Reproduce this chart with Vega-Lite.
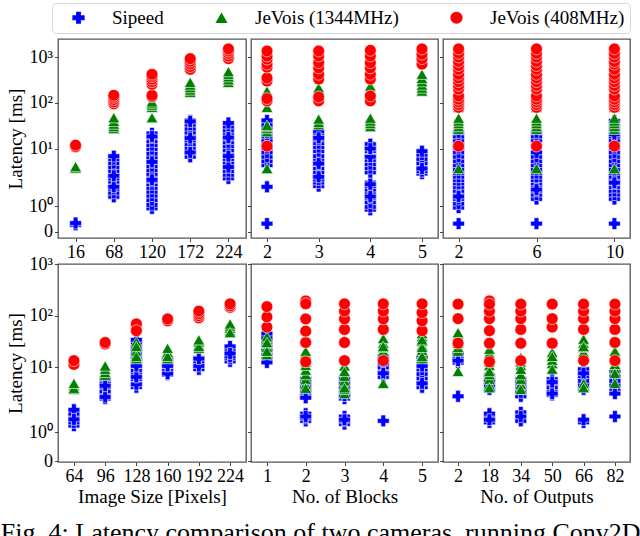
{
"$schema": "https://vega.github.io/schema/vega-lite/v6.json",
"padding": {"left": 0, "top": 2, "right": 0, "bottom": 0},
"config": {
  "font": "Liberation Serif",
  "view": {"stroke": "#555555", "strokeWidth": 1.3},
  "axis": {"labelFont": "Liberation Serif", "labelFontSize": 18, "titleFont": "Liberation Serif", "titleFontSize": 19, "titleFontWeight": "normal", "labelColor": "black", "titleColor": "black", "tickColor": "#444444", "tickSize": 3.5, "domain": false, "grid": false, "labelPadding": 2},
  "legend": {"labelFont": "Liberation Serif", "labelFontSize": 19, "labelColor": "black", "symbolSize": 150, "columnPadding": 36, "labelOffset": 24, "padding": 5, "strokeColor": "#d6d6d6", "cornerRadius": 4, "fillColor": "white", "symbolOffset": 12, "symbolStrokeWidth": 0, "direction": "horizontal"}
},
"title": {"text": "Fig. 4: Latency comparison of two cameras, running Conv2D", "orient": "bottom", "anchor": "start", "frame": "bounds", "font": "Liberation Serif", "fontSize": 26, "fontWeight": "normal", "color": "black", "offset": 13, "dx": -5},
"datasets": {
"a1": [
{"x":16,"s":"Sipeed","v":0.2},{"x":16,"s":"Sipeed","v":0.26},
{"x":68,"s":"Sipeed","v":1.32},{"x":68,"s":"Sipeed","v":1.47},{"x":68,"s":"Sipeed","v":1.63},{"x":68,"s":"Sipeed","v":1.79},{"x":68,"s":"Sipeed","v":1.95},{"x":68,"s":"Sipeed","v":2.28},{"x":68,"s":"Sipeed","v":2.79},{"x":68,"s":"Sipeed","v":3.41},{"x":68,"s":"Sipeed","v":4.2},{"x":68,"s":"Sipeed","v":5.1},{"x":68,"s":"Sipeed","v":6.2},{"x":68,"s":"Sipeed","v":1.72},{"x":68,"s":"Sipeed","v":2.65},{"x":68,"s":"Sipeed","v":7.1},
{"x":120,"s":"Sipeed","v":0.88},{"x":120,"s":"Sipeed","v":1.04},{"x":120,"s":"Sipeed","v":1.2},{"x":120,"s":"Sipeed","v":1.36},{"x":120,"s":"Sipeed","v":1.51},{"x":120,"s":"Sipeed","v":1.67},{"x":120,"s":"Sipeed","v":1.83},{"x":120,"s":"Sipeed","v":1.98},{"x":120,"s":"Sipeed","v":2.4},{"x":120,"s":"Sipeed","v":2.93},{"x":120,"s":"Sipeed","v":3.6},{"x":120,"s":"Sipeed","v":4.38},{"x":120,"s":"Sipeed","v":5.4},{"x":120,"s":"Sipeed","v":6.55},{"x":120,"s":"Sipeed","v":8},{"x":120,"s":"Sipeed","v":9.8},{"x":120,"s":"Sipeed","v":12},{"x":120,"s":"Sipeed","v":14.7},{"x":120,"s":"Sipeed","v":17.9},{"x":120,"s":"Sipeed","v":21.9},{"x":120,"s":"Sipeed","v":2.1},{"x":120,"s":"Sipeed","v":5.4},{"x":120,"s":"Sipeed","v":18.8},
{"x":172,"s":"Sipeed","v":6.9},{"x":172,"s":"Sipeed","v":8.4},{"x":172,"s":"Sipeed","v":10.3},{"x":172,"s":"Sipeed","v":12.6},{"x":172,"s":"Sipeed","v":15.4},{"x":172,"s":"Sipeed","v":18.8},{"x":172,"s":"Sipeed","v":23},{"x":172,"s":"Sipeed","v":28},{"x":172,"s":"Sipeed","v":34},{"x":172,"s":"Sipeed","v":42},{"x":172,"s":"Sipeed","v":8.4},{"x":172,"s":"Sipeed","v":17.3},{"x":172,"s":"Sipeed","v":40},
{"x":224,"s":"Sipeed","v":2.28},{"x":224,"s":"Sipeed","v":2.79},{"x":224,"s":"Sipeed","v":3.41},{"x":224,"s":"Sipeed","v":4.2},{"x":224,"s":"Sipeed","v":5.1},{"x":224,"s":"Sipeed","v":6.2},{"x":224,"s":"Sipeed","v":7.6},{"x":224,"s":"Sipeed","v":9.3},{"x":224,"s":"Sipeed","v":11.4},{"x":224,"s":"Sipeed","v":13.9},{"x":224,"s":"Sipeed","v":17},{"x":224,"s":"Sipeed","v":20.8},{"x":224,"s":"Sipeed","v":25.5},{"x":224,"s":"Sipeed","v":31},{"x":224,"s":"Sipeed","v":4.2},{"x":224,"s":"Sipeed","v":7.1},{"x":224,"s":"Sipeed","v":17.8},{"x":224,"s":"Sipeed","v":37},
{"x":16,"s":"JeVois (1344MHz)","v":4.0},{"x":16,"s":"JeVois (1344MHz)","v":4.3},
{"x":68,"s":"JeVois (1344MHz)","v":28},{"x":68,"s":"JeVois (1344MHz)","v":31},{"x":68,"s":"JeVois (1344MHz)","v":35},{"x":68,"s":"JeVois (1344MHz)","v":40},{"x":68,"s":"JeVois (1344MHz)","v":48},
{"x":120,"s":"JeVois (1344MHz)","v":48},{"x":120,"s":"JeVois (1344MHz)","v":80},{"x":120,"s":"JeVois (1344MHz)","v":88},{"x":120,"s":"JeVois (1344MHz)","v":96},{"x":120,"s":"JeVois (1344MHz)","v":105},
{"x":172,"s":"JeVois (1344MHz)","v":170},{"x":172,"s":"JeVois (1344MHz)","v":190},{"x":172,"s":"JeVois (1344MHz)","v":215},{"x":172,"s":"JeVois (1344MHz)","v":245},{"x":172,"s":"JeVois (1344MHz)","v":280},
{"x":224,"s":"JeVois (1344MHz)","v":280},{"x":224,"s":"JeVois (1344MHz)","v":320},{"x":224,"s":"JeVois (1344MHz)","v":370},{"x":224,"s":"JeVois (1344MHz)","v":420},{"x":224,"s":"JeVois (1344MHz)","v":480},
{"x":16,"s":"JeVois (408MHz)","v":11},{"x":16,"s":"JeVois (408MHz)","v":12},
{"x":68,"s":"JeVois (408MHz)","v":95},{"x":68,"s":"JeVois (408MHz)","v":105},{"x":68,"s":"JeVois (408MHz)","v":118},{"x":68,"s":"JeVois (408MHz)","v":132},{"x":68,"s":"JeVois (408MHz)","v":146},
{"x":120,"s":"JeVois (408MHz)","v":135},{"x":120,"s":"JeVois (408MHz)","v":146},{"x":120,"s":"JeVois (408MHz)","v":255},{"x":120,"s":"JeVois (408MHz)","v":290},{"x":120,"s":"JeVois (408MHz)","v":330},{"x":120,"s":"JeVois (408MHz)","v":375},{"x":120,"s":"JeVois (408MHz)","v":420},
{"x":172,"s":"JeVois (408MHz)","v":540},{"x":172,"s":"JeVois (408MHz)","v":620},{"x":172,"s":"JeVois (408MHz)","v":710},{"x":172,"s":"JeVois (408MHz)","v":810},{"x":172,"s":"JeVois (408MHz)","v":920},
{"x":224,"s":"JeVois (408MHz)","v":920},{"x":224,"s":"JeVois (408MHz)","v":1050},{"x":224,"s":"JeVois (408MHz)","v":1200},{"x":224,"s":"JeVois (408MHz)","v":1350},{"x":224,"s":"JeVois (408MHz)","v":1500}
],
"a2": [
{"x":2,"s":"Sipeed","v":4.6},{"x":2,"s":"Sipeed","v":5.6},{"x":2,"s":"Sipeed","v":6.9},{"x":2,"s":"Sipeed","v":8.4},{"x":2,"s":"Sipeed","v":10.3},{"x":2,"s":"Sipeed","v":12.6},{"x":2,"s":"Sipeed","v":15.4},{"x":2,"s":"Sipeed","v":18.8},{"x":2,"s":"Sipeed","v":23},{"x":2,"s":"Sipeed","v":28},{"x":2,"s":"Sipeed","v":34},{"x":2,"s":"Sipeed","v":42},{"x":2,"s":"Sipeed","v":0.24},{"x":2,"s":"Sipeed","v":1.72},
{"x":3,"s":"Sipeed","v":1.75},{"x":3,"s":"Sipeed","v":1.91},{"x":3,"s":"Sipeed","v":2.14},{"x":3,"s":"Sipeed","v":2.65},{"x":3,"s":"Sipeed","v":3.2},{"x":3,"s":"Sipeed","v":3.97},{"x":3,"s":"Sipeed","v":4.85},{"x":3,"s":"Sipeed","v":5.93},{"x":3,"s":"Sipeed","v":7.1},{"x":3,"s":"Sipeed","v":8.9},{"x":3,"s":"Sipeed","v":10.8},{"x":3,"s":"Sipeed","v":13.3},{"x":3,"s":"Sipeed","v":16.2},{"x":3,"s":"Sipeed","v":19.8},{"x":3,"s":"Sipeed","v":24.2},{"x":3,"s":"Sipeed","v":2.5},{"x":3,"s":"Sipeed","v":5.0},{"x":3,"s":"Sipeed","v":17.5},
{"x":4,"s":"Sipeed","v":0.81},{"x":4,"s":"Sipeed","v":0.96},{"x":4,"s":"Sipeed","v":1.12},{"x":4,"s":"Sipeed","v":1.28},{"x":4,"s":"Sipeed","v":1.44},{"x":4,"s":"Sipeed","v":1.6},{"x":4,"s":"Sipeed","v":1.75},{"x":4,"s":"Sipeed","v":1.91},{"x":4,"s":"Sipeed","v":3.2},{"x":4,"s":"Sipeed","v":3.97},{"x":4,"s":"Sipeed","v":4.85},{"x":4,"s":"Sipeed","v":5.93},{"x":4,"s":"Sipeed","v":7.1},{"x":4,"s":"Sipeed","v":8.9},{"x":4,"s":"Sipeed","v":10.8},{"x":4,"s":"Sipeed","v":12.6},{"x":4,"s":"Sipeed","v":1.33},{"x":4,"s":"Sipeed","v":1.83},{"x":4,"s":"Sipeed","v":6.9},{"x":4,"s":"Sipeed","v":10},
{"x":5,"s":"Sipeed","v":3.0},{"x":5,"s":"Sipeed","v":3.4},{"x":5,"s":"Sipeed","v":4.2},{"x":5,"s":"Sipeed","v":5.1},{"x":5,"s":"Sipeed","v":6.2},{"x":5,"s":"Sipeed","v":7.6},{"x":5,"s":"Sipeed","v":3.9},{"x":5,"s":"Sipeed","v":8.9},
{"x":2,"s":"JeVois (1344MHz)","v":3.9},{"x":2,"s":"JeVois (1344MHz)","v":24},{"x":2,"s":"JeVois (1344MHz)","v":28},{"x":2,"s":"JeVois (1344MHz)","v":31},{"x":2,"s":"JeVois (1344MHz)","v":33},{"x":2,"s":"JeVois (1344MHz)","v":80},{"x":2,"s":"JeVois (1344MHz)","v":181},
{"x":3,"s":"JeVois (1344MHz)","v":34},{"x":3,"s":"JeVois (1344MHz)","v":38},{"x":3,"s":"JeVois (1344MHz)","v":45},{"x":3,"s":"JeVois (1344MHz)","v":200},{"x":3,"s":"JeVois (1344MHz)","v":214},
{"x":4,"s":"JeVois (1344MHz)","v":31},{"x":4,"s":"JeVois (1344MHz)","v":36},{"x":4,"s":"JeVois (1344MHz)","v":41},{"x":4,"s":"JeVois (1344MHz)","v":47},{"x":4,"s":"JeVois (1344MHz)","v":233},
{"x":5,"s":"JeVois (1344MHz)","v":181},{"x":5,"s":"JeVois (1344MHz)","v":210},{"x":5,"s":"JeVois (1344MHz)","v":245},{"x":5,"s":"JeVois (1344MHz)","v":290},{"x":5,"s":"JeVois (1344MHz)","v":340},{"x":5,"s":"JeVois (1344MHz)","v":420},
{"x":2,"s":"JeVois (408MHz)","v":11.4},{"x":2,"s":"JeVois (408MHz)","v":110},{"x":2,"s":"JeVois (408MHz)","v":124},{"x":2,"s":"JeVois (408MHz)","v":300},{"x":2,"s":"JeVois (408MHz)","v":350},{"x":2,"s":"JeVois (408MHz)","v":600},{"x":2,"s":"JeVois (408MHz)","v":700},{"x":2,"s":"JeVois (408MHz)","v":900},{"x":2,"s":"JeVois (408MHz)","v":1050},{"x":2,"s":"JeVois (408MHz)","v":1350},
{"x":3,"s":"JeVois (408MHz)","v":110},{"x":3,"s":"JeVois (408MHz)","v":134},{"x":3,"s":"JeVois (408MHz)","v":330},{"x":3,"s":"JeVois (408MHz)","v":420},{"x":3,"s":"JeVois (408MHz)","v":580},{"x":3,"s":"JeVois (408MHz)","v":750},{"x":3,"s":"JeVois (408MHz)","v":1050},{"x":3,"s":"JeVois (408MHz)","v":1350},
{"x":4,"s":"JeVois (408MHz)","v":110},{"x":4,"s":"JeVois (408MHz)","v":141},{"x":4,"s":"JeVois (408MHz)","v":330},{"x":4,"s":"JeVois (408MHz)","v":420},{"x":4,"s":"JeVois (408MHz)","v":580},{"x":4,"s":"JeVois (408MHz)","v":750},{"x":4,"s":"JeVois (408MHz)","v":1050},{"x":4,"s":"JeVois (408MHz)","v":1400},
{"x":5,"s":"JeVois (408MHz)","v":700},{"x":5,"s":"JeVois (408MHz)","v":920},{"x":5,"s":"JeVois (408MHz)","v":1150},{"x":5,"s":"JeVois (408MHz)","v":1500}
],
"a3": [
{"x":2,"s":"Sipeed","v":0.92},{"x":2,"s":"Sipeed","v":1.08},{"x":2,"s":"Sipeed","v":1.24},{"x":2,"s":"Sipeed","v":1.4},{"x":2,"s":"Sipeed","v":1.55},{"x":2,"s":"Sipeed","v":1.71},{"x":2,"s":"Sipeed","v":1.87},{"x":2,"s":"Sipeed","v":2.06},{"x":2,"s":"Sipeed","v":2.5},{"x":2,"s":"Sipeed","v":3.08},{"x":2,"s":"Sipeed","v":3.75},{"x":2,"s":"Sipeed","v":4.6},{"x":2,"s":"Sipeed","v":5.6},{"x":2,"s":"Sipeed","v":6.9},{"x":2,"s":"Sipeed","v":8.4},{"x":2,"s":"Sipeed","v":10.3},{"x":2,"s":"Sipeed","v":12.6},{"x":2,"s":"Sipeed","v":15.4},{"x":2,"s":"Sipeed","v":18.8},{"x":2,"s":"Sipeed","v":23},{"x":2,"s":"Sipeed","v":0.24},{"x":2,"s":"Sipeed","v":1.33},
{"x":6,"s":"Sipeed","v":1.24},{"x":6,"s":"Sipeed","v":1.4},{"x":6,"s":"Sipeed","v":1.55},{"x":6,"s":"Sipeed","v":1.71},{"x":6,"s":"Sipeed","v":1.87},{"x":6,"s":"Sipeed","v":2.06},{"x":6,"s":"Sipeed","v":2.5},{"x":6,"s":"Sipeed","v":3.08},{"x":6,"s":"Sipeed","v":3.75},{"x":6,"s":"Sipeed","v":4.6},{"x":6,"s":"Sipeed","v":5.6},{"x":6,"s":"Sipeed","v":6.9},{"x":6,"s":"Sipeed","v":8.4},{"x":6,"s":"Sipeed","v":15.4},{"x":6,"s":"Sipeed","v":18.8},{"x":6,"s":"Sipeed","v":23},{"x":6,"s":"Sipeed","v":0.24},{"x":6,"s":"Sipeed","v":1.6},
{"x":10,"s":"Sipeed","v":1.24},{"x":10,"s":"Sipeed","v":1.4},{"x":10,"s":"Sipeed","v":1.55},{"x":10,"s":"Sipeed","v":1.71},{"x":10,"s":"Sipeed","v":1.87},{"x":10,"s":"Sipeed","v":2.06},{"x":10,"s":"Sipeed","v":2.5},{"x":10,"s":"Sipeed","v":3.08},{"x":10,"s":"Sipeed","v":3.75},{"x":10,"s":"Sipeed","v":4.6},{"x":10,"s":"Sipeed","v":5.6},{"x":10,"s":"Sipeed","v":6.9},{"x":10,"s":"Sipeed","v":8.4},{"x":10,"s":"Sipeed","v":10.3},{"x":10,"s":"Sipeed","v":12.6},{"x":10,"s":"Sipeed","v":15.4},{"x":10,"s":"Sipeed","v":18.8},{"x":10,"s":"Sipeed","v":23},{"x":10,"s":"Sipeed","v":28},{"x":10,"s":"Sipeed","v":34},{"x":10,"s":"Sipeed","v":41},{"x":10,"s":"Sipeed","v":0.24},{"x":10,"s":"Sipeed","v":1.9},{"x":10,"s":"Sipeed","v":21},
{"x":2,"s":"JeVois (1344MHz)","v":3.9},{"x":2,"s":"JeVois (1344MHz)","v":27},{"x":2,"s":"JeVois (1344MHz)","v":31},{"x":2,"s":"JeVois (1344MHz)","v":36},{"x":2,"s":"JeVois (1344MHz)","v":41},{"x":2,"s":"JeVois (1344MHz)","v":47},{"x":2,"s":"JeVois (1344MHz)","v":80},
{"x":6,"s":"JeVois (1344MHz)","v":3.9},{"x":6,"s":"JeVois (1344MHz)","v":27},{"x":6,"s":"JeVois (1344MHz)","v":31},{"x":6,"s":"JeVois (1344MHz)","v":36},{"x":6,"s":"JeVois (1344MHz)","v":41},{"x":6,"s":"JeVois (1344MHz)","v":47},{"x":6,"s":"JeVois (1344MHz)","v":80},
{"x":10,"s":"JeVois (1344MHz)","v":3.9},{"x":10,"s":"JeVois (1344MHz)","v":27},{"x":10,"s":"JeVois (1344MHz)","v":31},{"x":10,"s":"JeVois (1344MHz)","v":36},{"x":10,"s":"JeVois (1344MHz)","v":41},{"x":10,"s":"JeVois (1344MHz)","v":47},{"x":10,"s":"JeVois (1344MHz)","v":80},
{"x":2,"s":"JeVois (408MHz)","v":11.4},{"x":2,"s":"JeVois (408MHz)","v":80},{"x":2,"s":"JeVois (408MHz)","v":92},{"x":2,"s":"JeVois (408MHz)","v":105},{"x":2,"s":"JeVois (408MHz)","v":120},{"x":2,"s":"JeVois (408MHz)","v":141},{"x":2,"s":"JeVois (408MHz)","v":200},{"x":2,"s":"JeVois (408MHz)","v":240},{"x":2,"s":"JeVois (408MHz)","v":290},{"x":2,"s":"JeVois (408MHz)","v":350},{"x":2,"s":"JeVois (408MHz)","v":420},{"x":2,"s":"JeVois (408MHz)","v":540},{"x":2,"s":"JeVois (408MHz)","v":650},{"x":2,"s":"JeVois (408MHz)","v":800},{"x":2,"s":"JeVois (408MHz)","v":1000},{"x":2,"s":"JeVois (408MHz)","v":1200},{"x":2,"s":"JeVois (408MHz)","v":1500},
{"x":6,"s":"JeVois (408MHz)","v":11.4},{"x":6,"s":"JeVois (408MHz)","v":80},{"x":6,"s":"JeVois (408MHz)","v":92},{"x":6,"s":"JeVois (408MHz)","v":105},{"x":6,"s":"JeVois (408MHz)","v":120},{"x":6,"s":"JeVois (408MHz)","v":141},{"x":6,"s":"JeVois (408MHz)","v":200},{"x":6,"s":"JeVois (408MHz)","v":240},{"x":6,"s":"JeVois (408MHz)","v":290},{"x":6,"s":"JeVois (408MHz)","v":350},{"x":6,"s":"JeVois (408MHz)","v":420},{"x":6,"s":"JeVois (408MHz)","v":540},{"x":6,"s":"JeVois (408MHz)","v":650},{"x":6,"s":"JeVois (408MHz)","v":800},{"x":6,"s":"JeVois (408MHz)","v":1000},{"x":6,"s":"JeVois (408MHz)","v":1200},{"x":6,"s":"JeVois (408MHz)","v":1500},
{"x":10,"s":"JeVois (408MHz)","v":11.4},{"x":10,"s":"JeVois (408MHz)","v":80},{"x":10,"s":"JeVois (408MHz)","v":92},{"x":10,"s":"JeVois (408MHz)","v":105},{"x":10,"s":"JeVois (408MHz)","v":120},{"x":10,"s":"JeVois (408MHz)","v":141},{"x":10,"s":"JeVois (408MHz)","v":200},{"x":10,"s":"JeVois (408MHz)","v":240},{"x":10,"s":"JeVois (408MHz)","v":290},{"x":10,"s":"JeVois (408MHz)","v":350},{"x":10,"s":"JeVois (408MHz)","v":420},{"x":10,"s":"JeVois (408MHz)","v":540},{"x":10,"s":"JeVois (408MHz)","v":700},{"x":10,"s":"JeVois (408MHz)","v":800},{"x":10,"s":"JeVois (408MHz)","v":1000},{"x":10,"s":"JeVois (408MHz)","v":1200},{"x":10,"s":"JeVois (408MHz)","v":1500}
],
"b1": [
{"x":64,"s":"Sipeed","v":1.2},{"x":64,"s":"Sipeed","v":1.3},{"x":64,"s":"Sipeed","v":1.45},{"x":64,"s":"Sipeed","v":1.6},{"x":64,"s":"Sipeed","v":1.75},{"x":64,"s":"Sipeed","v":1.4},
{"x":96,"s":"Sipeed","v":2.6},{"x":96,"s":"Sipeed","v":3.1},{"x":96,"s":"Sipeed","v":3.7},{"x":96,"s":"Sipeed","v":4.4},{"x":96,"s":"Sipeed","v":5.2},{"x":96,"s":"Sipeed","v":6.2},{"x":96,"s":"Sipeed","v":2.8},{"x":96,"s":"Sipeed","v":4.7},
{"x":128,"s":"Sipeed","v":4.4},{"x":128,"s":"Sipeed","v":5.2},{"x":128,"s":"Sipeed","v":6.2},{"x":128,"s":"Sipeed","v":7.5},{"x":128,"s":"Sipeed","v":8.9},{"x":128,"s":"Sipeed","v":10.7},{"x":128,"s":"Sipeed","v":12.7},{"x":128,"s":"Sipeed","v":15.2},{"x":128,"s":"Sipeed","v":18.2},{"x":128,"s":"Sipeed","v":21.7},{"x":128,"s":"Sipeed","v":26},{"x":128,"s":"Sipeed","v":31},{"x":128,"s":"Sipeed","v":35},{"x":128,"s":"Sipeed","v":5.0},{"x":128,"s":"Sipeed","v":6.8},{"x":128,"s":"Sipeed","v":10.7},
{"x":160,"s":"Sipeed","v":7.5},{"x":160,"s":"Sipeed","v":8.9},{"x":160,"s":"Sipeed","v":10.7},{"x":160,"s":"Sipeed","v":12.7},{"x":160,"s":"Sipeed","v":15.2},{"x":160,"s":"Sipeed","v":7.8},{"x":160,"s":"Sipeed","v":10.7},
{"x":192,"s":"Sipeed","v":9.3},{"x":192,"s":"Sipeed","v":11},{"x":192,"s":"Sipeed","v":13},{"x":192,"s":"Sipeed","v":15.5},{"x":192,"s":"Sipeed","v":10.7},{"x":192,"s":"Sipeed","v":15},
{"x":224,"s":"Sipeed","v":13.3},{"x":224,"s":"Sipeed","v":15.2},{"x":224,"s":"Sipeed","v":18.2},{"x":224,"s":"Sipeed","v":21.7},{"x":224,"s":"Sipeed","v":26},{"x":224,"s":"Sipeed","v":16.6},{"x":224,"s":"Sipeed","v":19},
{"x":64,"s":"JeVois (1344MHz)","v":4.0},{"x":64,"s":"JeVois (1344MHz)","v":4.6},{"x":64,"s":"JeVois (1344MHz)","v":4.2},{"x":64,"s":"JeVois (1344MHz)","v":5.2},
{"x":96,"s":"JeVois (1344MHz)","v":7.3},{"x":96,"s":"JeVois (1344MHz)","v":8.2},{"x":96,"s":"JeVois (1344MHz)","v":9.3},{"x":96,"s":"JeVois (1344MHz)","v":10.7},
{"x":128,"s":"JeVois (1344MHz)","v":15},{"x":128,"s":"JeVois (1344MHz)","v":18},{"x":128,"s":"JeVois (1344MHz)","v":21},{"x":128,"s":"JeVois (1344MHz)","v":32},{"x":128,"s":"JeVois (1344MHz)","v":16.6},{"x":128,"s":"JeVois (1344MHz)","v":26},
{"x":160,"s":"JeVois (1344MHz)","v":15},{"x":160,"s":"JeVois (1344MHz)","v":17},{"x":160,"s":"JeVois (1344MHz)","v":20},{"x":160,"s":"JeVois (1344MHz)","v":16.6},{"x":160,"s":"JeVois (1344MHz)","v":24},
{"x":192,"s":"JeVois (1344MHz)","v":24},{"x":192,"s":"JeVois (1344MHz)","v":28},{"x":192,"s":"JeVois (1344MHz)","v":32},{"x":192,"s":"JeVois (1344MHz)","v":26},{"x":192,"s":"JeVois (1344MHz)","v":35},
{"x":224,"s":"JeVois (1344MHz)","v":52},{"x":224,"s":"JeVois (1344MHz)","v":58},{"x":224,"s":"JeVois (1344MHz)","v":64},{"x":224,"s":"JeVois (1344MHz)","v":70},{"x":224,"s":"JeVois (1344MHz)","v":48},
{"x":64,"s":"JeVois (408MHz)","v":11.5},{"x":64,"s":"JeVois (408MHz)","v":13.7},
{"x":96,"s":"JeVois (408MHz)","v":29},{"x":96,"s":"JeVois (408MHz)","v":31},
{"x":128,"s":"JeVois (408MHz)","v":55},{"x":128,"s":"JeVois (408MHz)","v":60},{"x":128,"s":"JeVois (408MHz)","v":65},{"x":128,"s":"JeVois (408MHz)","v":70},{"x":128,"s":"JeVois (408MHz)","v":52},
{"x":160,"s":"JeVois (408MHz)","v":80},{"x":160,"s":"JeVois (408MHz)","v":87},
{"x":192,"s":"JeVois (408MHz)","v":91},{"x":192,"s":"JeVois (408MHz)","v":100},{"x":192,"s":"JeVois (408MHz)","v":110},{"x":192,"s":"JeVois (408MHz)","v":123},
{"x":224,"s":"JeVois (408MHz)","v":145},{"x":224,"s":"JeVois (408MHz)","v":155},{"x":224,"s":"JeVois (408MHz)","v":170}
],
"b2": [
{"x":1,"s":"Sipeed","v":15},{"x":1,"s":"Sipeed","v":18},{"x":1,"s":"Sipeed","v":22},{"x":1,"s":"Sipeed","v":27},{"x":1,"s":"Sipeed","v":32},{"x":1,"s":"Sipeed","v":38},{"x":1,"s":"Sipeed","v":46},{"x":1,"s":"Sipeed","v":12.6},
{"x":2,"s":"Sipeed","v":1.35},{"x":2,"s":"Sipeed","v":1.45},{"x":2,"s":"Sipeed","v":1.6},{"x":2,"s":"Sipeed","v":3.0},{"x":2,"s":"Sipeed","v":3.6},{"x":2,"s":"Sipeed","v":4.3},{"x":2,"s":"Sipeed","v":5.2},{"x":2,"s":"Sipeed","v":6.3},{"x":2,"s":"Sipeed","v":1.5},{"x":2,"s":"Sipeed","v":2.7},
{"x":3,"s":"Sipeed","v":1.25},{"x":3,"s":"Sipeed","v":1.35},{"x":3,"s":"Sipeed","v":1.5},{"x":3,"s":"Sipeed","v":2.6},{"x":3,"s":"Sipeed","v":3.1},{"x":3,"s":"Sipeed","v":3.7},{"x":3,"s":"Sipeed","v":4.4},{"x":3,"s":"Sipeed","v":5.2},{"x":3,"s":"Sipeed","v":6.2},{"x":3,"s":"Sipeed","v":1.39},{"x":3,"s":"Sipeed","v":3.0},
{"x":4,"s":"Sipeed","v":6.8},{"x":4,"s":"Sipeed","v":8.2},{"x":4,"s":"Sipeed","v":10},{"x":4,"s":"Sipeed","v":12},{"x":4,"s":"Sipeed","v":14.5},{"x":4,"s":"Sipeed","v":16.6},{"x":4,"s":"Sipeed","v":7.9},{"x":4,"s":"Sipeed","v":1.35},
{"x":5,"s":"Sipeed","v":4.4},{"x":5,"s":"Sipeed","v":5.3},{"x":5,"s":"Sipeed","v":6.4},{"x":5,"s":"Sipeed","v":7.7},{"x":5,"s":"Sipeed","v":9.2},{"x":5,"s":"Sipeed","v":11},{"x":5,"s":"Sipeed","v":13.3},{"x":5,"s":"Sipeed","v":16},{"x":5,"s":"Sipeed","v":5.2},{"x":5,"s":"Sipeed","v":10.7},
{"x":1,"s":"JeVois (1344MHz)","v":18},{"x":1,"s":"JeVois (1344MHz)","v":21},{"x":1,"s":"JeVois (1344MHz)","v":25},{"x":1,"s":"JeVois (1344MHz)","v":30},{"x":1,"s":"JeVois (1344MHz)","v":35},{"x":1,"s":"JeVois (1344MHz)","v":40},{"x":1,"s":"JeVois (1344MHz)","v":21},{"x":1,"s":"JeVois (1344MHz)","v":31},
{"x":2,"s":"JeVois (1344MHz)","v":5},{"x":2,"s":"JeVois (1344MHz)","v":6.2},{"x":2,"s":"JeVois (1344MHz)","v":7.5},{"x":2,"s":"JeVois (1344MHz)","v":9},{"x":2,"s":"JeVois (1344MHz)","v":11},{"x":2,"s":"JeVois (1344MHz)","v":13},{"x":2,"s":"JeVois (1344MHz)","v":16},{"x":2,"s":"JeVois (1344MHz)","v":19},{"x":2,"s":"JeVois (1344MHz)","v":21},{"x":2,"s":"JeVois (1344MHz)","v":4.2},
{"x":3,"s":"JeVois (1344MHz)","v":3.3},{"x":3,"s":"JeVois (1344MHz)","v":4.0},{"x":3,"s":"JeVois (1344MHz)","v":4.8},{"x":3,"s":"JeVois (1344MHz)","v":5.8},{"x":3,"s":"JeVois (1344MHz)","v":7},{"x":3,"s":"JeVois (1344MHz)","v":10.7},{"x":3,"s":"JeVois (1344MHz)","v":4.3},{"x":3,"s":"JeVois (1344MHz)","v":8.5},
{"x":4,"s":"JeVois (1344MHz)","v":21},{"x":4,"s":"JeVois (1344MHz)","v":25},{"x":4,"s":"JeVois (1344MHz)","v":30},{"x":4,"s":"JeVois (1344MHz)","v":37},{"x":4,"s":"JeVois (1344MHz)","v":26},{"x":4,"s":"JeVois (1344MHz)","v":5.2},
{"x":5,"s":"JeVois (1344MHz)","v":15},{"x":5,"s":"JeVois (1344MHz)","v":18},{"x":5,"s":"JeVois (1344MHz)","v":22},{"x":5,"s":"JeVois (1344MHz)","v":27},{"x":5,"s":"JeVois (1344MHz)","v":33},{"x":5,"s":"JeVois (1344MHz)","v":40},{"x":5,"s":"JeVois (1344MHz)","v":46},{"x":5,"s":"JeVois (1344MHz)","v":16.6},{"x":5,"s":"JeVois (1344MHz)","v":25},{"x":5,"s":"JeVois (1344MHz)","v":35},
{"x":1,"s":"JeVois (408MHz)","v":61},{"x":1,"s":"JeVois (408MHz)","v":95},{"x":1,"s":"JeVois (408MHz)","v":150},
{"x":2,"s":"JeVois (408MHz)","v":13},{"x":2,"s":"JeVois (408MHz)","v":31},{"x":2,"s":"JeVois (408MHz)","v":51},{"x":2,"s":"JeVois (408MHz)","v":87},{"x":2,"s":"JeVois (408MHz)","v":193},{"x":2,"s":"JeVois (408MHz)","v":170},
{"x":3,"s":"JeVois (408MHz)","v":13.7},{"x":3,"s":"JeVois (408MHz)","v":31},{"x":3,"s":"JeVois (408MHz)","v":55},{"x":3,"s":"JeVois (408MHz)","v":87},{"x":3,"s":"JeVois (408MHz)","v":123},{"x":3,"s":"JeVois (408MHz)","v":170},
{"x":4,"s":"JeVois (408MHz)","v":13.7},{"x":4,"s":"JeVois (408MHz)","v":55},{"x":4,"s":"JeVois (408MHz)","v":87},{"x":4,"s":"JeVois (408MHz)","v":123},{"x":4,"s":"JeVois (408MHz)","v":170},
{"x":5,"s":"JeVois (408MHz)","v":52},{"x":5,"s":"JeVois (408MHz)","v":80},{"x":5,"s":"JeVois (408MHz)","v":115},{"x":5,"s":"JeVois (408MHz)","v":170}
],
"b3": [
{"x":2,"s":"Sipeed","v":12.5},{"x":2,"s":"Sipeed","v":15},{"x":2,"s":"Sipeed","v":17},{"x":2,"s":"Sipeed","v":19},{"x":2,"s":"Sipeed","v":13.7},{"x":2,"s":"Sipeed","v":2.9},
{"x":18,"s":"Sipeed","v":4.0},{"x":18,"s":"Sipeed","v":4.8},{"x":18,"s":"Sipeed","v":5.8},{"x":18,"s":"Sipeed","v":7.3},{"x":18,"s":"Sipeed","v":1.3},{"x":18,"s":"Sipeed","v":1.45},{"x":18,"s":"Sipeed","v":1.6},{"x":18,"s":"Sipeed","v":6.0},{"x":18,"s":"Sipeed","v":1.39},
{"x":34,"s":"Sipeed","v":2.9},{"x":34,"s":"Sipeed","v":3.5},{"x":34,"s":"Sipeed","v":4.2},{"x":34,"s":"Sipeed","v":5.0},{"x":34,"s":"Sipeed","v":6.2},{"x":34,"s":"Sipeed","v":1.35},{"x":34,"s":"Sipeed","v":1.65},{"x":34,"s":"Sipeed","v":5.2},{"x":34,"s":"Sipeed","v":1.5},
{"x":50,"s":"Sipeed","v":3.1},{"x":50,"s":"Sipeed","v":3.7},{"x":50,"s":"Sipeed","v":4.4},{"x":50,"s":"Sipeed","v":5.2},{"x":50,"s":"Sipeed","v":6.2},{"x":50,"s":"Sipeed","v":3.3},{"x":50,"s":"Sipeed","v":5.5},
{"x":66,"s":"Sipeed","v":4.0},{"x":66,"s":"Sipeed","v":4.8},{"x":66,"s":"Sipeed","v":5.8},{"x":66,"s":"Sipeed","v":7},{"x":66,"s":"Sipeed","v":8.5},{"x":66,"s":"Sipeed","v":9.3},{"x":66,"s":"Sipeed","v":1.3},{"x":66,"s":"Sipeed","v":7.9},{"x":66,"s":"Sipeed","v":1.39},
{"x":82,"s":"Sipeed","v":4.0},{"x":82,"s":"Sipeed","v":4.8},{"x":82,"s":"Sipeed","v":5.8},{"x":82,"s":"Sipeed","v":7},{"x":82,"s":"Sipeed","v":8.5},{"x":82,"s":"Sipeed","v":1.5},{"x":82,"s":"Sipeed","v":3.3},
{"x":2,"s":"JeVois (1344MHz)","v":21},{"x":2,"s":"JeVois (1344MHz)","v":25},{"x":2,"s":"JeVois (1344MHz)","v":30},{"x":2,"s":"JeVois (1344MHz)","v":36},{"x":2,"s":"JeVois (1344MHz)","v":43},{"x":2,"s":"JeVois (1344MHz)","v":48},{"x":2,"s":"JeVois (1344MHz)","v":8.5},
{"x":18,"s":"JeVois (1344MHz)","v":5.0},{"x":18,"s":"JeVois (1344MHz)","v":6.2},{"x":18,"s":"JeVois (1344MHz)","v":7.5},{"x":18,"s":"JeVois (1344MHz)","v":9},{"x":18,"s":"JeVois (1344MHz)","v":11},{"x":18,"s":"JeVois (1344MHz)","v":13},{"x":18,"s":"JeVois (1344MHz)","v":16},{"x":18,"s":"JeVois (1344MHz)","v":19},{"x":18,"s":"JeVois (1344MHz)","v":23},{"x":18,"s":"JeVois (1344MHz)","v":8.5},{"x":18,"s":"JeVois (1344MHz)","v":4.3},
{"x":34,"s":"JeVois (1344MHz)","v":5.0},{"x":34,"s":"JeVois (1344MHz)","v":6.2},{"x":34,"s":"JeVois (1344MHz)","v":7.5},{"x":34,"s":"JeVois (1344MHz)","v":11},{"x":34,"s":"JeVois (1344MHz)","v":13},{"x":34,"s":"JeVois (1344MHz)","v":16},{"x":34,"s":"JeVois (1344MHz)","v":9.3},{"x":34,"s":"JeVois (1344MHz)","v":4.0},
{"x":50,"s":"JeVois (1344MHz)","v":12},{"x":50,"s":"JeVois (1344MHz)","v":14},{"x":50,"s":"JeVois (1344MHz)","v":17},{"x":50,"s":"JeVois (1344MHz)","v":20},{"x":50,"s":"JeVois (1344MHz)","v":16.6},{"x":50,"s":"JeVois (1344MHz)","v":9.3},
{"x":66,"s":"JeVois (1344MHz)","v":4.6},{"x":66,"s":"JeVois (1344MHz)","v":5.2},{"x":66,"s":"JeVois (1344MHz)","v":17},{"x":66,"s":"JeVois (1344MHz)","v":20},{"x":66,"s":"JeVois (1344MHz)","v":25},{"x":66,"s":"JeVois (1344MHz)","v":30},{"x":66,"s":"JeVois (1344MHz)","v":36},{"x":66,"s":"JeVois (1344MHz)","v":26},{"x":66,"s":"JeVois (1344MHz)","v":4.3},
{"x":82,"s":"JeVois (1344MHz)","v":9.5},{"x":82,"s":"JeVois (1344MHz)","v":11.5},{"x":82,"s":"JeVois (1344MHz)","v":14},{"x":82,"s":"JeVois (1344MHz)","v":17},{"x":82,"s":"JeVois (1344MHz)","v":21},{"x":82,"s":"JeVois (1344MHz)","v":7.9},{"x":82,"s":"JeVois (1344MHz)","v":5.2},
{"x":2,"s":"JeVois (408MHz)","v":30},{"x":2,"s":"JeVois (408MHz)","v":88},{"x":2,"s":"JeVois (408MHz)","v":168},
{"x":18,"s":"JeVois (408MHz)","v":13},{"x":18,"s":"JeVois (408MHz)","v":30},{"x":18,"s":"JeVois (408MHz)","v":52},{"x":18,"s":"JeVois (408MHz)","v":88},{"x":18,"s":"JeVois (408MHz)","v":123},{"x":18,"s":"JeVois (408MHz)","v":193},{"x":18,"s":"JeVois (408MHz)","v":168},
{"x":34,"s":"JeVois (408MHz)","v":13.7},{"x":34,"s":"JeVois (408MHz)","v":30},{"x":34,"s":"JeVois (408MHz)","v":55},{"x":34,"s":"JeVois (408MHz)","v":88},{"x":34,"s":"JeVois (408MHz)","v":123},{"x":34,"s":"JeVois (408MHz)","v":168},
{"x":50,"s":"JeVois (408MHz)","v":30},{"x":50,"s":"JeVois (408MHz)","v":61},{"x":50,"s":"JeVois (408MHz)","v":88},{"x":50,"s":"JeVois (408MHz)","v":168},
{"x":66,"s":"JeVois (408MHz)","v":13.7},{"x":66,"s":"JeVois (408MHz)","v":55},{"x":66,"s":"JeVois (408MHz)","v":88},{"x":66,"s":"JeVois (408MHz)","v":123},{"x":66,"s":"JeVois (408MHz)","v":168},
{"x":82,"s":"JeVois (408MHz)","v":13.7},{"x":82,"s":"JeVois (408MHz)","v":31},{"x":82,"s":"JeVois (408MHz)","v":55},{"x":82,"s":"JeVois (408MHz)","v":88},{"x":82,"s":"JeVois (408MHz)","v":123},{"x":82,"s":"JeVois (408MHz)","v":168}
]
},
"columns": 3,
"bounds": "flush",
"spacing": {"row": 26, "column": 5},
"concat": [
  {"width": 188, "height": 199, "data": {"name": "a1"},
   "mark": {"type": "point", "filled": true, "opacity": 1, "stroke": "white", "strokeWidth": 0.6, "size": 140},
   "encoding": {
    "x": {"field": "x", "type": "ordinal", "scale": {"type": "point", "padding": 0.46}, "axis": {"title": null, "labelAngle": 0}},
    "y": {"field": "v", "type": "quantitative", "scale": {"type": "symlog", "constant": 1, "domain": [-0.256, 0, 1, 2, 10, 100, 1000, 2472], "range": [199, 192.5, 167.1, 141.6, 109.6, 63.8, 18, 0], "nice": false, "zero": false}, "axis": {"title": "Latency [ms]", "titlePadding": 3, "values": [0, 1, 10, 100, 1000], "labelExpr": "datum.value == 0 ? '0' : datum.value == 1 ? '10⁰' : datum.value == 10 ? '10¹' : datum.value == 100 ? '10²' : '10³'"}},
    "color": {"field": "s", "type": "nominal", "title": null, "scale": {"domain": ["Sipeed", "JeVois (1344MHz)", "JeVois (408MHz)"], "range": ["#0000ff", "#008000", "#ff0000"]}, "legend": {"orient": "none", "legendX": -6, "legendY": -36, "direction": "horizontal"}},
    "shape": {"field": "s", "type": "nominal", "title": null, "scale": {"domain": ["Sipeed", "JeVois (1344MHz)", "JeVois (408MHz)"], "range": ["cross", "triangle-up", "circle"]}, "legend": {"orient": "none", "legendX": -6, "legendY": -36, "direction": "horizontal"}}
   }},
  {"width": 187, "height": 199, "data": {"name": "a2"},
   "mark": {"type": "point", "filled": true, "opacity": 1, "stroke": "white", "strokeWidth": 0.6, "size": 140},
   "encoding": {
    "x": {"field": "x", "type": "ordinal", "scale": {"type": "point", "padding": 0.31}, "axis": {"title": null, "labelAngle": 0}},
    "y": {"field": "v", "type": "quantitative", "scale": {"type": "symlog", "constant": 1, "domain": [-0.256, 0, 1, 2, 10, 100, 1000, 2472], "range": [199, 192.5, 167.1, 141.6, 109.6, 63.8, 18, 0], "nice": false, "zero": false}, "axis": {"title": null, "labels": false, "values": [0, 1, 10, 100, 1000]}},
    "color": {"field": "s", "type": "nominal", "title": null, "scale": {"domain": ["Sipeed", "JeVois (1344MHz)", "JeVois (408MHz)"], "range": ["#0000ff", "#008000", "#ff0000"]}},
    "shape": {"field": "s", "type": "nominal", "title": null, "scale": {"domain": ["Sipeed", "JeVois (1344MHz)", "JeVois (408MHz)"], "range": ["cross", "triangle-up", "circle"]}}
   }},
  {"width": 187, "height": 199, "data": {"name": "a3"},
   "mark": {"type": "point", "filled": true, "opacity": 1, "stroke": "white", "strokeWidth": 0.6, "size": 140},
   "encoding": {
    "x": {"field": "x", "type": "ordinal", "scale": {"type": "point", "padding": 0.2}, "axis": {"title": null, "labelAngle": 0}},
    "y": {"field": "v", "type": "quantitative", "scale": {"type": "symlog", "constant": 1, "domain": [-0.256, 0, 1, 2, 10, 100, 1000, 2472], "range": [199, 192.5, 167.1, 141.6, 109.6, 63.8, 18, 0], "nice": false, "zero": false}, "axis": {"title": null, "labels": false, "values": [0, 1, 10, 100, 1000]}},
    "color": {"field": "s", "type": "nominal", "title": null, "scale": {"domain": ["Sipeed", "JeVois (1344MHz)", "JeVois (408MHz)"], "range": ["#0000ff", "#008000", "#ff0000"]}},
    "shape": {"field": "s", "type": "nominal", "title": null, "scale": {"domain": ["Sipeed", "JeVois (1344MHz)", "JeVois (408MHz)"], "range": ["cross", "triangle-up", "circle"]}}
   }},
  {"width": 188, "height": 198, "data": {"name": "b1"},
   "mark": {"type": "point", "filled": true, "opacity": 1, "stroke": "white", "strokeWidth": 0.6, "size": 140},
   "encoding": {
    "x": {"field": "x", "type": "ordinal", "scale": {"type": "point", "padding": 0.51}, "axis": {"title": "Image Size [Pixels]", "labelAngle": 0, "titlePadding": 2}},
    "y": {"field": "v", "type": "quantitative", "scale": {"type": "symlog", "constant": 1, "domain": [-0.035, 0, 1, 2, 10, 100, 1000], "range": [198, 197, 168.3, 139.6, 103.4, 51.7, 0], "nice": false, "zero": false}, "axis": {"title": "Latency [ms]", "titlePadding": 3, "values": [0, 1, 10, 100, 1000], "labelExpr": "datum.value == 0 ? '0' : datum.value == 1 ? '10⁰' : datum.value == 10 ? '10¹' : datum.value == 100 ? '10²' : '10³'"}},
    "color": {"field": "s", "type": "nominal", "title": null, "scale": {"domain": ["Sipeed", "JeVois (1344MHz)", "JeVois (408MHz)"], "range": ["#0000ff", "#008000", "#ff0000"]}},
    "shape": {"field": "s", "type": "nominal", "title": null, "scale": {"domain": ["Sipeed", "JeVois (1344MHz)", "JeVois (408MHz)"], "range": ["cross", "triangle-up", "circle"]}}
   }},
  {"width": 187, "height": 198, "data": {"name": "b2"},
   "mark": {"type": "point", "filled": true, "opacity": 1, "stroke": "white", "strokeWidth": 0.6, "size": 140},
   "encoding": {
    "x": {"field": "x", "type": "ordinal", "scale": {"type": "point", "padding": 0.41}, "axis": {"title": "No. of Blocks", "labelAngle": 0, "titlePadding": 2}},
    "y": {"field": "v", "type": "quantitative", "scale": {"type": "symlog", "constant": 1, "domain": [-0.035, 0, 1, 2, 10, 100, 1000], "range": [198, 197, 168.3, 139.6, 103.4, 51.7, 0], "nice": false, "zero": false}, "axis": {"title": null, "labels": false, "values": [0, 1, 10, 100, 1000]}},
    "color": {"field": "s", "type": "nominal", "title": null, "scale": {"domain": ["Sipeed", "JeVois (1344MHz)", "JeVois (408MHz)"], "range": ["#0000ff", "#008000", "#ff0000"]}},
    "shape": {"field": "s", "type": "nominal", "title": null, "scale": {"domain": ["Sipeed", "JeVois (1344MHz)", "JeVois (408MHz)"], "range": ["cross", "triangle-up", "circle"]}}
   }},
  {"width": 187, "height": 198, "data": {"name": "b3"},
   "mark": {"type": "point", "filled": true, "opacity": 1, "stroke": "white", "strokeWidth": 0.6, "size": 140},
   "encoding": {
    "x": {"field": "x", "type": "ordinal", "scale": {"type": "point", "padding": 0.48}, "axis": {"title": "No. of Outputs", "labelAngle": 0, "titlePadding": 2}},
    "y": {"field": "v", "type": "quantitative", "scale": {"type": "symlog", "constant": 1, "domain": [-0.035, 0, 1, 2, 10, 100, 1000], "range": [198, 197, 168.3, 139.6, 103.4, 51.7, 0], "nice": false, "zero": false}, "axis": {"title": null, "labels": false, "values": [0, 1, 10, 100, 1000]}},
    "color": {"field": "s", "type": "nominal", "title": null, "scale": {"domain": ["Sipeed", "JeVois (1344MHz)", "JeVois (408MHz)"], "range": ["#0000ff", "#008000", "#ff0000"]}},
    "shape": {"field": "s", "type": "nominal", "title": null, "scale": {"domain": ["Sipeed", "JeVois (1344MHz)", "JeVois (408MHz)"], "range": ["cross", "triangle-up", "circle"]}}
   }}
]
}
